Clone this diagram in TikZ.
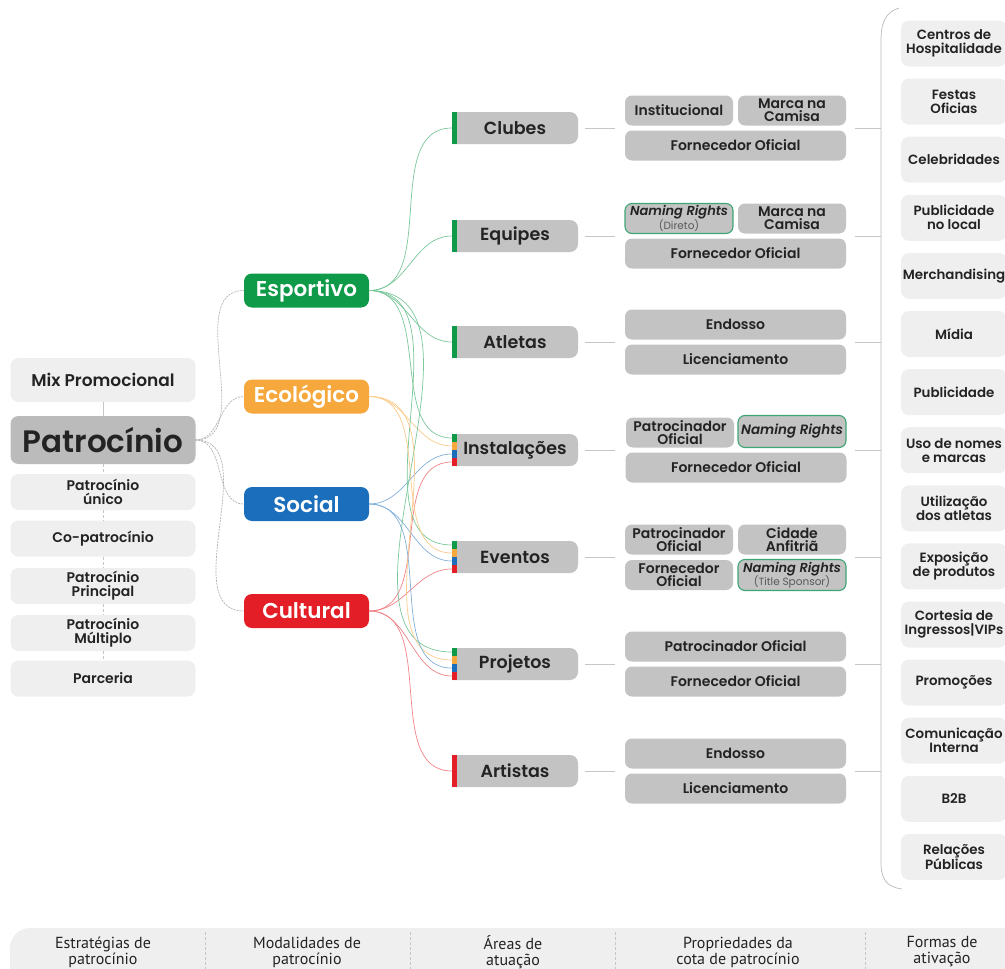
\documentclass[tikz,border=0pt]{standalone}
\usepackage{fontspec}
\setmainfont{Poppins}[BoldFont={Poppins SemiBold}, BoldItalicFont={Poppins SemiBold Italic}]
\newfontfamily\ptsans{PT Sans}
\definecolor{cgreen}{HTML}{0E9A48}
\definecolor{corange}{HTML}{F6A83D}
\definecolor{cblue}{HTML}{1A6EBB}
\definecolor{cred}{HTML}{E31E26}
\definecolor{lgray}{HTML}{EFEFEF}
\definecolor{mgray}{HTML}{C3C3C4}
\definecolor{dgray}{HTML}{BBBBBB}
\definecolor{txt}{HTML}{232323}
\definecolor{nrgreen}{HTML}{3DA673}
\tikzset{
  leftbox/.style={fill=lgray, rounded corners=8pt, minimum width=185pt, minimum height=36pt, font=\fontsize{14}{14}\selectfont\bfseries},
  catbox/.style={rounded corners=8pt, minimum width=125pt, minimum height=34pt, text=white, font=\fontsize{21.5}{21.5}\selectfont\bfseries},
  areatext/.style={minimum width=126pt, minimum height=32pt, font=\fontsize{17.5}{17.5}\selectfont\bfseries},
  propbox/.style={fill=mgray, rounded corners=7pt, minimum height=30pt, minimum width=108pt, font=\fontsize{14}{13}\selectfont\bfseries},
  propwide/.style={propbox, minimum width=221pt},
  nrbox/.style={propbox, draw=nrgreen, line width=1.1pt},
  actbox/.style={fill=lgray, rounded corners=8pt, minimum width=106pt, minimum height=46pt, font=\fontsize{13.4}{14}\selectfont\bfseries},
  botlab/.style={font=\ptsans\fontsize{16}{16}\selectfont, text=txt},
  gconn/.style={gray!60, line width=0.7pt, dash pattern=on 2pt off 1pt},
  lconn/.style={gray!45, line width=0.6pt},
  gline/.style={cgreen!55, line width=0.7pt},
  oline/.style={corange!60, line width=0.7pt},
  bline/.style={cblue!55, line width=0.7pt},
  rline/.style={cred!55, line width=0.7pt},
}
\newcommand\areashape[1]{%
  \fill[mgray] (452,#1-16) [rounded corners=8pt]-- (578,#1-16) -- (578,#1+16) [sharp corners]-- (452,#1+16) -- cycle;}
\newcommand\stripeone[2]{\fill[#2] (452,#1-16) rectangle (457,#1+16);}
\newcommand\stripefour[1]{%
  \fill[cgreen] (452,#1-16) rectangle (457,#1-8);
  \fill[corange] (452,#1-8) rectangle (457,#1);
  \fill[cblue] (452,#1) rectangle (457,#1+8);
  \fill[cred] (452,#1+8) rectangle (457,#1+16);}
\newcommand\nr[1]{{\fontsize{13}{12}\selectfont\textit{Naming Rights}}\\[-1pt]{\fontsize{10.5}{10}\selectfont\mdseries\color{black!65}#1}}
\begin{document}
\begin{tikzpicture}[x=1pt,y=-1pt, every node/.style={inner sep=0pt, outer sep=0pt, align=center, text=txt}]
\useasboundingbox (0,0) rectangle (1005,969);
\clip (0,0) rectangle (1005,969);

% ---------- left column ----------
\node[leftbox, minimum height=44pt, font=\fontsize{17}{17}\selectfont\bfseries] (mix) at (103,380) {Mix Promocional};
\node[leftbox, fill=dgray, minimum height=48pt, font=\fontsize{31}{31}\selectfont\bfseries] (pat) at (103,440) {Patrocínio};
\node[leftbox] (unico) at (103,492) {Patrocínio\\único};
\node[leftbox] (co) at (103,538.5) {Co-patrocínio};
\node[leftbox] (princ) at (103,586) {Patrocínio\\Principal};
\node[leftbox] (mult) at (103,633) {Patrocínio\\Múltiplo};
\node[leftbox] (parc) at (103,678.5) {Parceria};
\draw[lconn] (mix) -- (pat);
\draw[lconn, densely dashed] (pat) -- (unico);
\draw[lconn, densely dashed] (unico) -- (co);
\draw[lconn, densely dashed] (co) -- (princ);
\draw[lconn, densely dashed] (princ) -- (mult);
\draw[lconn, densely dashed] (mult) -- (parc);

% ---------- categories ----------
\node[catbox, fill=cgreen] (esp) at (306.5,290.5) {Esportivo};
\node[catbox, fill=corange] (eco) at (306.5,396.5) {Ecológico};
\node[catbox, fill=cblue] (soc) at (306.5,504) {Social};
\node[catbox, fill=cred] (cul) at (306.5,611) {Cultural};
\foreach \c in {esp,eco,soc,cul}
  \draw[gconn] (pat.east) to[out=0,in=180] (\c.west);

% ---------- areas ----------
\areashape{128}\stripeone{128}{cgreen}
\areashape{236}\stripeone{236}{cgreen}
\areashape{342}\stripeone{342}{cgreen}
\areashape{450}\stripefour{450}
\areashape{557}\stripefour{557}
\areashape{664}\stripefour{664}
\areashape{771}\stripeone{771}{cred}
\node[areatext] (clubes) at (515,128) {Clubes};
\node[areatext] (equipes) at (515,236) {Equipes};
\node[areatext] (atletas) at (515,342) {Atletas};
\node[areatext] (inst) at (515,450) {Instalações};
\node[areatext] (even) at (515,557) {Eventos};
\node[areatext] (proj) at (515,664) {Projetos};
\node[areatext] (art) at (515,771) {Artistas};
\foreach \a/\y in {inst/450,even/557,proj/664}{
  \coordinate (\a-g) at (452,\y-12);
  \coordinate (\a-o) at (452,\y-4);
  \coordinate (\a-b) at (452,\y+4);
  \coordinate (\a-r) at (452,\y+12);
}

% ---------- category -> area connectors ----------
\foreach \t in {clubes,equipes,atletas}
  \draw[gline] (esp.east) to[out=0,in=180] (\t.west);
\foreach \t in {inst,even,proj}{
  \draw[gline] (esp.east) to[out=0,in=180] (\t-g);
  \draw[oline] (eco.east) to[out=0,in=180] (\t-o);
  \draw[bline] (soc.east) to[out=0,in=180] (\t-b);
  \draw[rline] (cul.east) to[out=0,in=180] (\t-r);
}
\draw[rline] (cul.east) to[out=0,in=180] (art.west);

% ---------- properties ----------
% Clubes
\node[propbox] (p1a) at (679,110.5) {Institucional};
\node[propbox] (p1b) at (792,110.5) {Marca na\\Camisa};
\node[propwide] (p1c) at (735.5,145.5) {Fornecedor Oficial};
% Equipes
\node[nrbox] (p2a) at (679,218.5) {\nr{(Direto)}};
\node[propbox] (p2b) at (792,218.5) {Marca na\\Camisa};
\node[propwide] (p2c) at (735.5,253.5) {Fornecedor Oficial};
% Atletas
\node[propwide] (p3a) at (735.5,324.5) {Endosso};
\node[propwide] (p3b) at (735.5,359.5) {Licenciamento};
% Instalacoes
\node[propbox] (p4a) at (680,432.5) {Patrocinador\\Oficial};
\node[nrbox, minimum height=32pt, font=\fontsize{13.5}{13}\selectfont\bfseries\itshape] (p4b) at (792,431.5) {Naming Rights};
\node[propwide] (p4c) at (736,467.5) {Fornecedor Oficial};
% Eventos
\node[propbox] (p5a) at (679,539.5) {Patrocinador\\Oficial};
\node[propbox] (p5b) at (792,539.5) {Cidade\\Anfitriã};
\node[propbox] (p5c) at (679,575) {Fornecedor\\Oficial};
\node[nrbox, minimum height=31pt] (p5d) at (792,575) {\nr{(Title Sponsor)}};
% Projetos
\node[propwide] (p6a) at (735.5,646.5) {Patrocinador Oficial};
\node[propwide] (p6b) at (735.5,681.5) {Fornecedor Oficial};
% Artistas
\node[propwide] (p7a) at (735.5,753.5) {Endosso};
\node[propwide] (p7b) at (735.5,788.5) {Licenciamento};

% ---------- area -> property and property -> bracket connectors ----------
\foreach \n/\y in {clubes/128,equipes/236,atletas/342,inst/450,even/557,proj/664,art/771}{
  \coordinate (\n-pa) at (585,\y);
  \coordinate (\n-pb) at (615,\y);
  \coordinate (\n-qa) at (855,\y);
  \coordinate (\n-qb) at (881,\y);
  \draw[lconn] (\n-pa) -- (\n-pb);
  \draw[lconn] (\n-qa) -- (\n-qb);
}

% ---------- bracket ----------
\coordinate (brtop) at (899,8);
\coordinate (brbot) at (902,889);
\draw[gray!55, line width=0.7pt] (brtop) .. controls (886,12) and (881,22) .. (881,40) -- (881,862) .. controls (881,880) and (887,887) .. (brbot);

% ---------- activation forms ----------
\foreach [count=\i from 0] \t in {{Centros de\\Hospitalidade},{Festas\\Oficias},{Celebridades},{Publicidade\\no local},{Merchandising},{Mídia},{Publicidade},{Uso de nomes\\e marcas},{Utilização\\dos atletas},{Exposição\\de produtos},{Cortesia de\\Ingressos|VIPs},{Promoções},{Comunicação\\Interna},{B2B},{Relações\\Públicas}}
  \node[actbox] (act\i) at (954,43.5+58.1*\i) {\t};

% ---------- bottom bar ----------
\fill[lgray, rounded corners=20pt] (10,928) rectangle (1040,1010);
\foreach \x in {205,410,615,865}
  \draw[gray!45, densely dashed, line width=0.5pt] (\x,932) -- (\x,969);
\node[botlab] (b1) at (103,952) {Estratégias de\\patrocínio};
\node[botlab] (b2) at (307,952) {Modalidades de\\patrocínio};
\node[botlab] (b3) at (513,952) {Áreas de\\atuação};
\node[botlab] (b4) at (738,952) {Propriedades da\\cota de patrocínio};
\node[botlab] (b5) at (942,952) {Formas de\\ativação};
\end{tikzpicture}
\end{document}
